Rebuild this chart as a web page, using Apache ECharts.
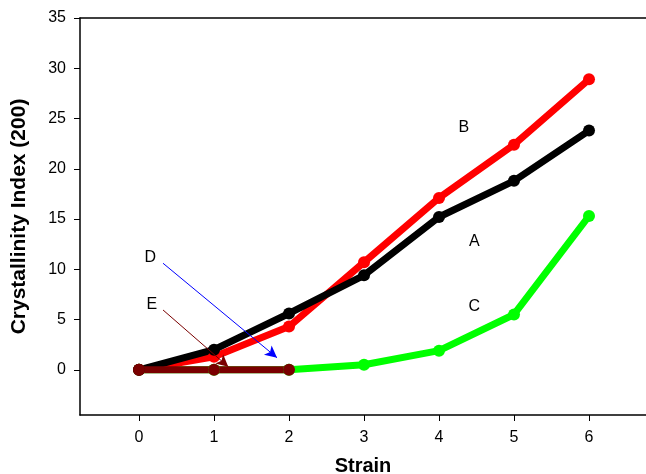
<!DOCTYPE html>
<html>
<head>
<meta charset="utf-8">
<script src="https://cdn.jsdelivr.net/npm/echarts@6/dist/echarts.min.js"></script>
<style>
  html, body { margin: 0; padding: 0; background: #fff; }
  #chart { width: 646px; height: 474px; }
</style>
</head>
<body>
<div id="chart"></div>
<script>
// strain steps
const strain = [0, 1, 2, 3, 4, 5, 6];
const seriesA = [0, 2.0, 5.6, 9.4, 15.2, 18.8, 23.8];
const seriesB = [0, 1.3, 4.3, 10.7, 17.1, 22.4, 28.9];
const seriesC = [0, 0, 0, 0.5, 1.9, 5.5, 15.3];
const seriesE = [0, 0, 0];
const yTicks = [0, 5, 10, 15, 20, 25, 30, 35];
const xTicks = [0, 1, 2, 3, 4, 5, 6];

// curve letters [x, y, text]
const letters = [
  [4.33, 24.1, 'B'],
  [4.47, 12.8, 'A'],
  [4.47, 6.3, 'C'],
  [0.15, 11.2, 'D'],
  [0.17, 6.5, 'E']
];
// arrows from label to curve
const arrowD = [[0.32, 10.6], [1.84, 1.2]];
const arrowE = [[0.32, 5.95], [1.19, 0.3]];

const pairs = (ys) => ys.map((v, i) => [strain[i], v]);

const font = 'Liberation Sans, Arial, sans-serif';

const lineSeries = (name, data, color) => ({
  name: name,
  type: 'line',
  data: pairs(data),
  symbol: 'circle',
  symbolSize: 12,
  lineStyle: { color: color, width: 7 },
  itemStyle: { color: color },
  z: 3
});

const chart = echarts.init(document.getElementById('chart'));
chart.setOption({
  animation: false,
  backgroundColor: '#fff',
  grid: { left: 80, right: 0, top: 18, bottom: 59, outerBoundsMode: 'none', containLabel: false },
  xAxis: [{
    type: 'value',
    min: -0.787,
    max: 6.76,
    splitLine: { show: false },
    axisLine: { onZero: false, lineStyle: { color: '#000', width: 1.5 } },
    axisTick: { customValues: xTicks, length: 6, lineStyle: { color: '#000' } },
    axisLabel: { customValues: xTicks, color: '#000', fontSize: 16, fontFamily: font, margin: 15 },
    name: 'Strain',
    nameLocation: 'middle',
    nameGap: 41,
    nameTextStyle: { color: '#000', fontSize: 20, fontWeight: 'bold', fontFamily: font }
  }, {
    type: 'value',
    position: 'top',
    min: -0.787,
    max: 6.76,
    splitLine: { show: false },
    axisLine: { onZero: false, lineStyle: { color: '#000', width: 1.5 } },
    axisTick: { show: false },
    axisLabel: { show: false }
  }],
  yAxis: {
    type: 'value',
    min: -4.5,
    max: 35,
    splitLine: { show: false },
    axisLine: { onZero: false, lineStyle: { color: '#000', width: 1.5 } },
    axisTick: { customValues: yTicks, length: 6, lineStyle: { color: '#000' } },
    axisLabel: { customValues: yTicks, color: '#000', fontSize: 16, fontFamily: font, margin: 14 },
    name: 'Crystallinity Index (200)',
    nameLocation: 'middle',
    nameGap: 50,
    nameTextStyle: { color: '#000', fontSize: 21, fontWeight: 'bold', fontFamily: font }
  },
  series: [
    lineSeries('C', seriesC, '#00ff00'),
    lineSeries('B', seriesB, '#ff0000'),
    lineSeries('A', seriesA, '#000000'),
    lineSeries('E', seriesE, '#7a0000'),
    {
      name: 'letters',
      type: 'scatter',
      data: letters,
      symbolSize: 0,
      itemStyle: { color: '#000', opacity: 1 },
      label: {
        show: true,
        position: 'inside',
        formatter: (p) => p.value[2],
        color: '#000',
        textBorderWidth: 0,
        fontSize: 16,
        fontFamily: font
      },
      markLine: {
        silent: true,
        symbol: ['none', 'arrow'],
        symbolSize: [9, 12],
        label: { show: false },
        data: [
          [{ coord: arrowD[0], lineStyle: { color: '#0000ff', width: 1, type: 'solid' } }, { coord: arrowD[1] }],
          [{ coord: arrowE[0], lineStyle: { color: '#7a0000', width: 1, type: 'solid' } }, { coord: arrowE[1] }]
        ]
      },
      z: 5
    }
  ]
});
</script>
</body>
</html>
